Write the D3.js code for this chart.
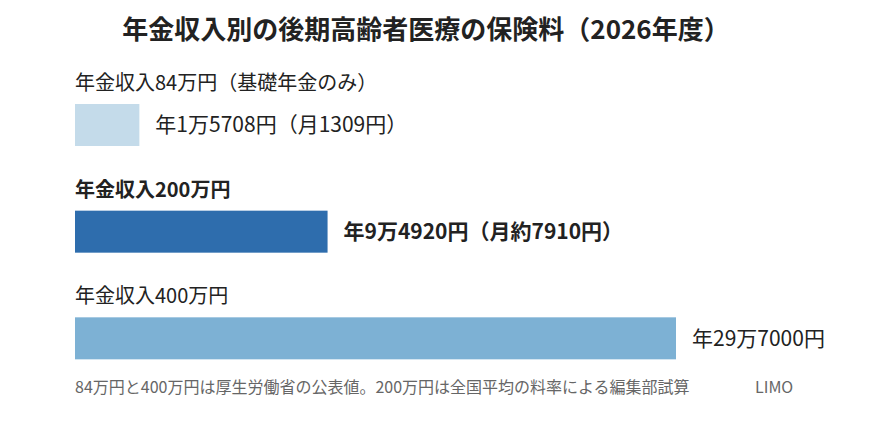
<!DOCTYPE html>
<html>
<head>
<meta charset="utf-8">
<script src="https://cdn.jsdelivr.net/npm/d3@7"></script>
<style>
  body { margin: 0; background: #fff; }
  text { font-family: "Noto Sans CJK JP", "Noto Sans", sans-serif; }
</style>
</head>
<body>
<script>
const title = "年金収入別の後期高齢者医療の保険料（2026年度）";
const categories = ["年金収入84万円（基礎年金のみ）", "年金収入200万円", "年金収入400万円"];
const annualPremium = [15708, 94920, 297000];
const valueLabels = ["年1万5708円（月1309円）", "年9万4920円（月約7910円）", "年29万7000円"];
const highlight = [false, true, false];
const barColors = ["#c4dbea", "#2e6dad", "#7db1d4"];
const note = "84万円と400万円は厚生労働省の公表値。200万円は全国平均の料率による編集部試算";
const source = "LIMO";

const width = 870;
const height = 422;
const margin = { top: 60, left: 75 };

const svg = d3
  .select("body")
  .append("svg")
  .attr("width", width)
  .attr("height", height);

svg
  .append("text")
  .attr("x", 426)
  .attr("y", 39)
  .attr("text-anchor", "middle")
  .attr("font-size", 26)
  .attr("font-weight", "bold")
  .attr("fill", "#222")
  .text(title);

// bars are drawn with a compressed (power) scale, like the original graphic
const x = d3.scalePow().exponent(0.76).domain([0, d3.max(annualPremium)]).range([0, 601]);

const y = d3
  .scaleBand()
  .domain(categories)
  .range([margin.top, margin.top + 320])
  .paddingInner(0);

const barH = 42;

const rows = svg
  .selectAll(".row")
  .data(categories)
  .join("g")
  .attr("class", "row")
  .attr("transform", (d) => `translate(${margin.left}, ${y(d)})`);

rows
  .append("text")
  .attr("y", 30)
  .attr("font-size", 20)
  .attr("font-weight", (d, i) => (highlight[i] ? "bold" : "normal"))
  .attr("fill", "#222")
  .text((d) => d);

rows
  .append("rect")
  .attr("y", 44)
  .attr("height", barH)
  .attr("width", (d, i) => x(annualPremium[i]))
  .attr("fill", (d, i) => barColors[i]);

rows
  .append("text")
  .attr("x", (d, i) => x(annualPremium[i]) + 16)
  .attr("y", 44 + barH / 2)
  .attr("dy", "0.35em")
  .attr("font-size", 21)
  .attr("font-weight", (d, i) => (highlight[i] ? "bold" : "normal"))
  .attr("fill", "#222")
  .text((d, i) => valueLabels[i]);

svg
  .append("text")
  .attr("x", margin.left)
  .attr("y", 393)
  .attr("font-size", 16)
  .attr("fill", "#666")
  .text(note);

svg
  .append("text")
  .attr("x", 755)
  .attr("y", 393)
  .attr("font-size", 16)
  .attr("fill", "#666")
  .text(source);
</script>
</body>
</html>
